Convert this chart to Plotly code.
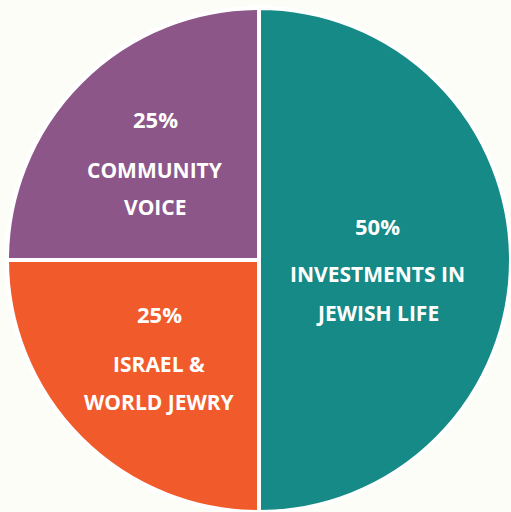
import plotly.graph_objects as go

categories = ["INVESTMENTS IN<br>JEWISH LIFE", "ISRAEL &<br>WORLD JEWRY", "COMMUNITY<br>VOICE"]
values = [50, 25, 25]
colors = ["#168a87", "#f15a2b", "#8d5689"]
pct_labels = ["50%", "25%", "25%"]

fig = go.Figure(go.Pie(
    labels=categories, values=values, sort=False, direction="clockwise", rotation=0,
    marker=dict(colors=colors, line=dict(color="#ffffff", width=4)),
    textinfo="none", hoverinfo="label+percent", showlegend=False,
))

# label positions (pixels in the figure)
pos = [(377, 226, 274, 313), (159, 314, 364, 402), (155, 119, 170, 207)]
W, H = 511, 512
L, T = 7, 8
PW, PH = W - L, H - T
pfont = dict(family="Open Sans", size=22, color="white")
lfont = dict(family="Open Sans", size=21, color="white")
anns = []
for (x, yp, y1, y2), cat, p in zip(pos, categories, pct_labels):
    l1, l2 = cat.split("<br>")
    for txt, yy, f in [(p, yp, pfont), (l1, y1, lfont), (l2, y2, lfont)]:
        anns.append(dict(x=(x - L) / PW, y=1 - (yy - T) / PH, xref="paper", yref="paper",
                         text="<b>" + txt + "</b>", showarrow=False, font=f,
                         xanchor="center", yanchor="middle"))

fig.update_layout(
    width=W, height=H, margin=dict(l=L, r=0, t=T, b=0),
    paper_bgcolor="#fdfdf8", plot_bgcolor="#fdfdf8", annotations=anns,
)
fig.write_html("out.html", config={"displayModeBar": False},
               post_script="document.body.style.margin='0px';document.body.style.background='#fdfdf8';")
